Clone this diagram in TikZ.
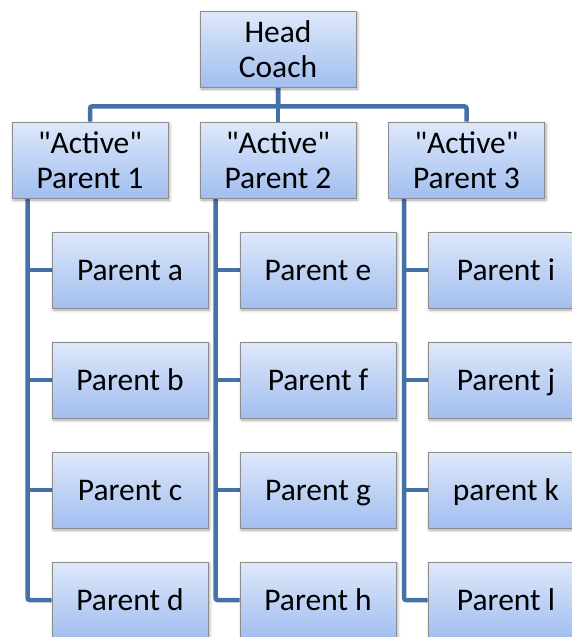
\documentclass[tikz,border=0pt]{standalone}
\usepackage{fontspec}
\setmainfont{Carlito}[Ligatures=TeXOff]
\usetikzlibrary{shadows.blur}
\pgfdeclarelayer{background}
\pgfsetlayers{background,main}
\definecolor{linecol}{RGB}{68,114,168}
\definecolor{boxtop}{RGB}{222,232,250}
\definecolor{boxbot}{RGB}{162,190,240}
\definecolor{boxline}{RGB}{140,140,140}
\newcommand{\ls}{\rule[-6.6pt]{0pt}{34.6pt}}
\tikzset{
  orgbox/.style={draw=boxline, line width=0.9pt, top color=boxtop, bottom color=boxbot,
    minimum width=156pt, minimum height=76pt, inner sep=0pt, align=center,
    font=\fontsize{31.5}{35}\selectfont,
    blur shadow={shadow xshift=1.5pt, shadow yshift=-2pt, shadow blur radius=3pt, shadow opacity=35}},
  conn/.style={draw=linecol, line width=4.5pt, rounded corners=2pt},
}
\begin{document}
\begin{tikzpicture}[x=1pt,y=-1pt]
\useasboundingbox (0,0) rectangle (571,637);
\path (278,49) node[orgbox] (head) {\ls Head\\\ls Coach};
\path (90,160) node[orgbox] (p1) {\ls"Active"\\\ls Parent 1};
\path (278,160) node[orgbox] (p2) {\ls"Active"\\\ls Parent 2};
\path (466.5,160) node[orgbox] (p3) {\ls"Active"\\\ls Parent 3};
\foreach \c/\x/\a/\b/\cc/\d in {1/130/a/b/c/d, 2/318/e/f/g/h, 3/506/i/j/k/l}{
  \path (\x,270) node[orgbox] (c\c a) {\ls Parent \a};
  \path (\x,380) node[orgbox] (c\c b) {\ls Parent \b};
  \path (\x,490) node[orgbox] (c\c c) {\ls\ifnum\c=3 parent\else Parent\fi{} \cc};
  \path (\x,600) node[orgbox] (c\c d) {\ls Parent \d};
}
\begin{pgfonlayer}{background}
  \draw[conn] (head.south) -- ++(0,19) -| (p1.north);
  \draw[conn] (head.south) -- ++(0,19) -| (p3.north);
  \draw[conn] (head.south) -- (p2.north);
  \foreach \c in {1,2,3}{
    \coordinate (v\c) at ([xshift=16pt]p\c.south west);
    \draw[conn] (v\c) |- (c\c d.west);
    \foreach \r in {a,b,c}{
      \draw[conn] (v\c |- c\c \r.west) -- (c\c \r.west);
    }
  }
\end{pgfonlayer}
\end{tikzpicture}
\end{document}
